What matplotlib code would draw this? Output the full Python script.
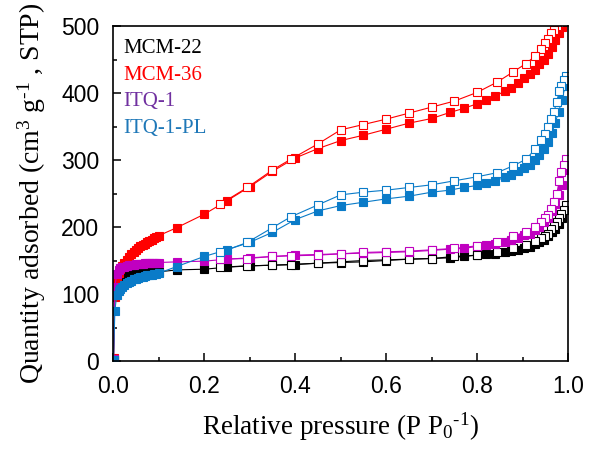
import matplotlib
matplotlib.use("Agg")
import matplotlib.pyplot as plt
from matplotlib.ticker import MultipleLocator, FormatStrFormatter

plt.rcParams['font.family'] = ['Liberation Sans', 'DejaVu Sans']
plt.rcParams['mathtext.fontset'] = 'custom'
plt.rcParams['mathtext.rm'] = 'Liberation Serif'
plt.rcParams['mathtext.it'] = 'Liberation Serif:italic'
plt.rcParams['axes.unicode_minus'] = False

# adsorption branch (filled squares)
p_ads = [0.001, 0.004, 0.008, 0.012, 0.016, 0.02, 0.025, 0.03, 0.035, 0.04,
         0.045, 0.05, 0.055, 0.06, 0.065, 0.07, 0.075, 0.08, 0.085, 0.09,
         0.095, 0.1, 0.14, 0.2, 0.25, 0.3, 0.35, 0.4, 0.45, 0.5, 0.55, 0.6,
         0.65, 0.7, 0.74, 0.77, 0.8, 0.82, 0.84, 0.86, 0.875, 0.89, 0.903,
         0.915, 0.926, 0.936, 0.946, 0.955, 0.964, 0.971, 0.979, 0.986, 0.993]

mcm22_ads = [2, 100, 118, 124, 126, 127, 128, 128.5, 129, 129.5,
             130, 130.5, 131, 131, 131.5, 132, 132, 132.5, 132.5, 133,
             133, 133, 136, 137, 140, 142, 143, 144, 146, 147, 148, 150,
             152, 153, 154, 156, 158, 159, 160, 162, 164, 166, 168,
             170, 174, 178, 181, 186, 192, 197, 204, 213, 225]
mcm36_ads = [5, 95, 120, 132, 138, 142, 147, 151, 155, 159,
             162, 165, 168, 171, 173, 175, 177, 179, 181, 183,
             185, 187, 199, 219, 239, 260, 283, 303, 317, 329, 337, 346,
             355, 362, 371, 377, 384, 389, 395, 403, 408, 415, 422,
             428, 435, 443, 450, 459, 469, 479, 489, 498, 510]
itq1_ads = [3, 110, 130, 136, 139, 140, 141, 142, 143, 143.5,
            144, 144.5, 145, 145, 145.5, 146, 146, 146.5, 146.5, 147,
            147, 147, 148, 149, 152, 154, 156, 158, 159, 160, 161, 162,
            163, 165, 167, 168, 171, 173, 175, 178, 181, 184, 188,
            190, 195, 200, 207, 214, 224, 235, 248, 263, 285]
itq1pl_ads = [2, 75, 98, 104, 108, 111, 114, 116, 118, 120,
              122, 123, 124, 125, 126, 127, 128, 128.5, 129, 130,
              130.5, 131, 141, 156, 166, 177, 192, 211, 224, 232, 237, 242,
              246, 252, 255, 259, 262, 266, 269, 274, 278, 283, 288,
              293, 300, 307, 316, 327, 340, 355, 372, 389, 410]

# desorption branch (open squares)
p_des = [0.995, 0.99, 0.985, 0.98, 0.975, 0.968, 0.962, 0.955, 0.948, 0.94,
         0.927, 0.907, 0.878, 0.843, 0.80, 0.75, 0.70, 0.65, 0.60, 0.55,
         0.50, 0.45, 0.39, 0.35, 0.295, 0.235]

mcm22_des = [233, 225, 219, 213, 208, 202, 197, 190, 187, 183,
             179, 173, 169, 163, 158, 156, 153, 152, 151, 150,
             148, 146, 144, 143, 142, 140]
mcm36_des = [530, 520, 512, 505, 500, 494, 489, 481, 474, 466,
             455, 444, 431, 416, 401, 388, 379, 370, 361, 353,
             345, 324, 301, 285, 259, 234]
itq1_des = [302, 293, 282, 268, 250, 238, 227, 218, 213, 208,
            200, 193, 186, 178, 172, 168, 166, 164, 163, 162,
            160, 158, 157, 156, 153, 152]
itq1pl_des = [425, 419, 411, 403, 387, 371, 361, 349, 339, 330,
              316, 301, 291, 281, 275, 269, 263, 259, 255, 252,
              248, 233, 215, 199, 177, 162]

names = ['MCM-22', 'MCM-36', 'ITQ-1', 'ITQ-1-PL']
colors = ['#000000', '#FF0000', '#C000C0', '#0A7BC8']
text_colors = ['#000000', '#FF0000', '#7030A0', '#1F78B8']

fig = plt.figure(figsize=(5.95, 4.49), dpi=100)
ax = fig.add_axes([0.190, 0.196, 0.765, 0.746])

series = [(mcm22_ads, mcm22_des), (mcm36_ads, mcm36_des),
          (itq1_ads, itq1_des), (itq1pl_ads, itq1pl_des)]
for (ads, des), c in zip(series, colors):
    ax.plot(p_ads, ads, '-s', color=c, lw=0.8, ms=5.8, mfc=c, mec=c, mew=0.8)
    ax.plot(p_des, des, '-s', color=c, lw=0.8, ms=5.8, mfc='white', mec=c, mew=0.8)

ax.set_xlim(0, 1.0)
ax.set_ylim(0, 500)
ax.xaxis.set_major_locator(MultipleLocator(0.2))
ax.xaxis.set_minor_locator(MultipleLocator(0.1))
ax.xaxis.set_major_formatter(FormatStrFormatter('%.1f'))
ax.yaxis.set_major_locator(MultipleLocator(100))
ax.yaxis.set_minor_locator(MultipleLocator(50))
ax.tick_params(which='both', direction='in', width=1.1, top=False, right=False,
               labelsize=16.5)
ax.tick_params(which='major', length=6)
ax.tick_params(which='minor', length=3)
for s in ax.spines.values():
    s.set_linewidth(1.2)
ax.tick_params(axis='x', pad=10)
ax.tick_params(axis='y', pad=10)

ax.set_xlabel(r'Relative pressure (P P$_\mathregular{0}$$^\text{-1}$)',
              family='Liberation Serif', fontsize=19.5, labelpad=9)
ax.set_ylabel(r'Quantity adsorbed (cm$^\mathregular{3}$ g$^\text{-1}$ , STP)',
              family='Liberation Serif', fontsize=20, labelpad=9)

for i, (n, tc) in enumerate(zip(names, text_colors)):
    ax.text(0.022, 0.96 - i * 0.079, n, color=tc, transform=ax.transAxes,
            family='Liberation Serif', fontsize=15, va='top', ha='left')

fig.savefig('out.png', dpi=100)
